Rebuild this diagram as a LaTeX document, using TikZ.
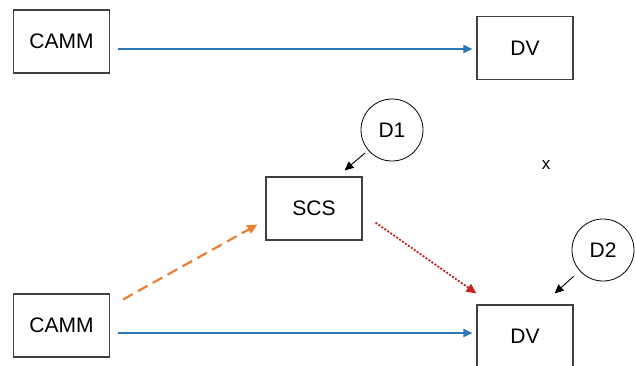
\documentclass[tikz,border=0pt]{standalone}
\usepackage{fontspec}
\setmainfont{Liberation Sans}
\usetikzlibrary{arrows.meta}
\definecolor{pathblue}{RGB}{46,117,182}
\definecolor{pathorange}{RGB}{237,125,49}
\definecolor{pathred}{RGB}{200,35,35}

\begin{document}
\begin{tikzpicture}[x=1pt,y=-1pt,
var/.style={%
draw=black!75,
line width=1.1pt,
minimum width=96pt,
minimum height=63pt,
font=\fontsize{21}{25}\selectfont
},
dist/.style={%
draw,
circle,
line width=0.8pt,
minimum size=62pt,
inner sep=0pt,
font=\fontsize{21}{25}\selectfont
},
direct/.style={%
-{Triangle[length=9pt,width=8pt]},
line width=1.8pt,
pathblue
},
noise/.style={%
-{Triangle[length=9pt,width=8pt]},
line width=0.9pt
},
]
\useasboundingbox (0,0) rectangle (636,365);
\clip (0,0) rectangle (636,365);
%% Total effect
\node[var](camma)at(61.5,41.5){CAMM};
\node[var](dva)at(525,48){DV};
\draw[direct] (camma.east |- dva.west) ++(8,1) -- ([xshift=-4pt,yshift=-1pt]dva.west);
%% Mediation
\node[var](scs)at(314,208.5){SCS};
\node[var](cammb)at(61.5,325.5){CAMM};
\node[var](dvb)at(525,336.5){DV};
\node[dist](d1)at(392,130){D1};
\node[dist](d2)at(603,250){D2};
\node[font=\fontsize{17}{20}\selectfont](note)at(546,165){x};
\draw[direct] ([xshift=8pt,yshift=3.5pt]cammb.east |- dvb.west) -- ([xshift=-4pt,yshift=3.5pt]dvb.west);
\draw[-{Triangle[length=10pt,width=9pt]},line width=2.2pt,pathorange,dash pattern=on 11pt off 6pt]
([xshift=13pt,yshift=-6pt]cammb.north east) -- ([xshift=-8pt,yshift=16pt]scs.south west);
\draw[-{Triangle[length=10pt,width=9pt]},line width=1.8pt,pathred,dash pattern=on 2pt off 1.6pt]
([xshift=13pt,yshift=18pt]scs.south east) -- ([yshift=11pt]dvb.north west);
%% Disturbances
\draw[noise,shorten <=4pt] (d1) -- ([xshift=-18pt,yshift=6pt]scs.north east);
\draw[noise,shorten <=8pt] (d2) -- ([xshift=-19pt,yshift=11pt]dvb.north east);
\end{tikzpicture}
\end{document}
